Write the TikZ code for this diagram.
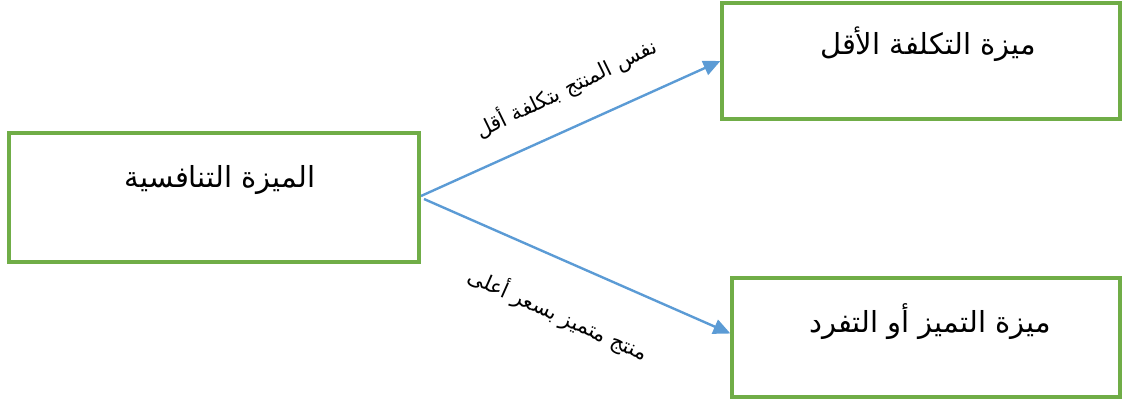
\documentclass[tikz,border=0pt]{standalone}
\usepackage{fontspec}
\newfontfamily\arabicfont[Script=Arabic]{DejaVu Sans}
\TeXXeTstate=1
\usetikzlibrary{arrows.meta}
\definecolor{boxgreen}{HTML}{70AD47}
\definecolor{arrowblue}{HTML}{5B9BD5}
\tikzset{
  gbox/.style={draw=boxgreen, line width=3.2pt, fill=white, inner sep=0pt},
  boxtext/.style={font=\arabicfont\fontsize{29}{32}\selectfont, inner sep=0pt},
  lbl/.style={font=\arabicfont\fontsize{21}{24}\selectfont, inner sep=0pt},
  conn/.style={draw=arrowblue, line width=2.4pt, -{Triangle[length=17pt,width=15pt]}}
}
\begin{document}
\begin{tikzpicture}[x=1pt,y=-1pt]
\useasboundingbox (0,0) rectangle (1123,399);
\node[gbox, minimum width=410pt, minimum height=129pt] (comp) at (214,197.5) {};
\node[gbox, minimum width=398pt, minimum height=116pt] (low) at (921,61) {};
\node[gbox, minimum width=388pt, minimum height=119pt] (uniq) at (926,337.5) {};
\node[boxtext] (tcomp) at (220,180) {\beginR الميزة التنافسية\endR};
\node[boxtext] (tlow) at (928,44) {\beginR ميزة التكلفة الأقل\endR};
\node[boxtext] (tuniq) at (930,322) {\beginR ميزة التميز أو التفرد\endR};
\coordinate (s1) at (421,196);
\coordinate (s2) at (424,199);
\draw[conn] (s1) -- (low.west);
\draw[conn] (s2) -- ([yshift=4pt]uniq.west);
\node[lbl, rotate=26] (l1) at (566,88) {\beginR نفس المنتج بتكلفة أقل\endR};
\node[lbl, rotate=-24] (l2) at (558,314) {\beginR منتج متميز بسعر أعلى\endR};
\end{tikzpicture}
\end{document}
